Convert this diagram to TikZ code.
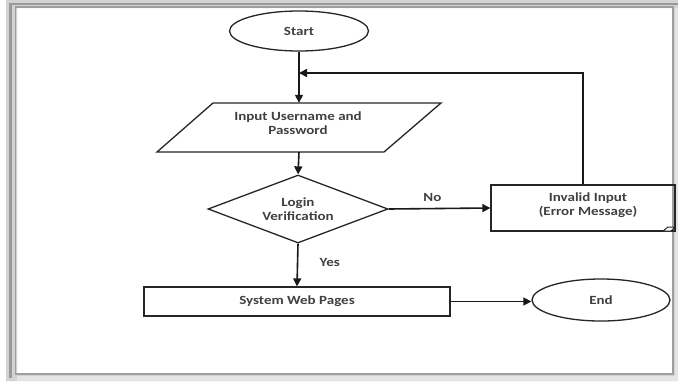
\documentclass[tikz,border=0pt]{standalone}
\usepackage{fontspec}
\setmainfont{Carlito}[FakeStretch=1.2]
\usetikzlibrary{shapes.geometric,arrows.meta}
\begin{document}
\begin{tikzpicture}[x=1pt,y=-1pt,
  shp/.style={draw=black!85, line width=1.3pt},
  txt/.style={font=\fontsize{12.5}{14.5}\selectfont\bfseries, text=black!75, align=center},
  arr/.style={draw=black!90, line width=1.6pt, -{Triangle[length=8pt,width=8pt]}},
  lbl/.style={font=\fontsize{12.5}{14.5}\selectfont\bfseries, text=black!75}]
\useasboundingbox (0,0) rectangle (678,381);
\fill[white] (0,0) rectangle (678,381);
% frame
\fill[gray!35, even odd rule] (6,0) rectangle (678,381) (17,8) rectangle (672,373);
\draw[gray!80, line width=2.5pt] (10.5,378) -- (10.5,4) -- (678,4);
\draw[gray!75, line width=1.8pt] (15.5,374) -- (15.5,7) -- (673,7) -- (673,374) -- cycle;
\fill[gray!20] (675,8) rectangle (678,381);
\fill[gray!20] (17,376) rectangle (678,381);

% nodes
\node[shp, ellipse, minimum width=139pt, minimum height=40pt, inner sep=0, txt] (start) at (299,31) {Start};
\draw[shp] (213,103) -- (441,103) -- (384,152) -- (157,152) -- cycle;
\node[minimum width=228pt, minimum height=49pt, inner sep=0] (inp) at (299,127.5) {};
\node[txt] (inpt) at (298,123) {Input Username and\\Password};
\node[shp, diamond, aspect=2.65, minimum width=180pt, minimum height=68pt, inner sep=0, txt] (dia) at (298,209) {Login\\Verification};
\node[shp, rectangle, minimum width=184pt, minimum height=46pt, inner sep=0] (inv) at (583,208) {};
\node[txt] (invt) at (588,205) {Invalid Input\\(Error Message)};
\draw[shp, fill=white, line width=1pt] (663,231) -- (668,227) -- (675,227) -- (671,231) -- cycle;
\node[shp, rectangle, minimum width=306pt, minimum height=29pt, inner sep=0, txt] (sys) at (297,301.5) {System Web Pages};
\node[shp, ellipse, minimum width=138pt, minimum height=42pt, inner sep=0, txt] (end) at (601,300) {End};
\coordinate (j) at (299,73);

% connectors
\draw[arr] (start.south) -- (inp.north);
\draw[arr] (inv.north) |- (j);
\draw[arr] (inp.south) -- (dia.north);
\draw[arr] (dia.east) -- node[lbl, above=3pt, pos=0.43] (no) {No} (inv.west);
\draw[arr] (dia.south) -- node[lbl, right=18pt, pos=0.45] (yes) {Yes} (sys.north);
\draw[arr] (sys.east) -- (sys.east -| end.west);
\end{tikzpicture}
\end{document}
